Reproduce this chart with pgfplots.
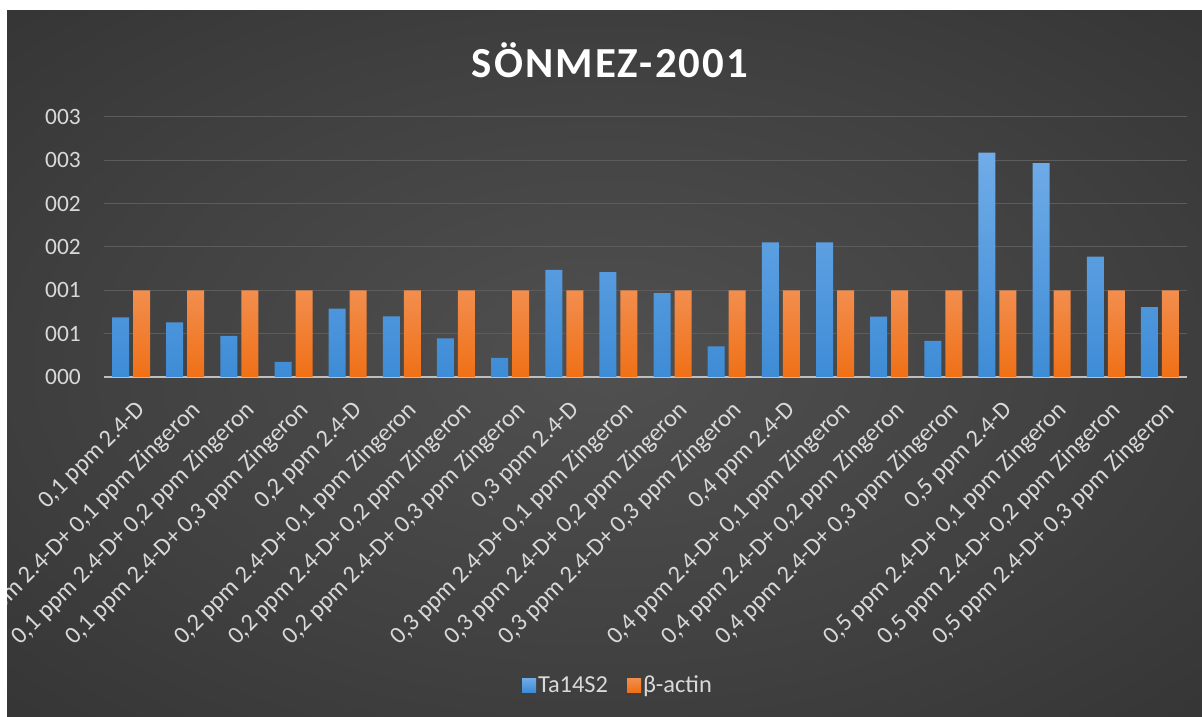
\documentclass[border=0pt]{standalone}
\usepackage{pgfplots}
\pgfplotsset{compat=1.18}
\usepackage{fontspec}
\setmainfont{Carlito}
\newfontfamily\titlefont[LetterSpace=5]{Carlito}
\definecolor{blueT}{RGB}{112,172,232}
\definecolor{blueB}{RGB}{62,140,214}
\definecolor{orT}{RGB}{242,142,78}
\definecolor{orB}{RGB}{240,112,22}
\definecolor{lbl}{RGB}{217,217,217}
\definecolor{gridc}{RGB}{92,92,92}
\definecolor{axc}{RGB}{190,190,190}
\definecolor{bgA}{RGB}{80,80,80}
\definecolor{bgB}{RGB}{64,64,64}
\definecolor{bgC}{RGB}{42,42,42}
\definecolor{bgD}{RGB}{34,34,34}
\pgfdeclareradialshading{bgshade}{\pgfpoint{0bp}{0bp}}{color(0bp)=(bgA); color(22bp)=(bgB); color(50bp)=(bgC); color(72bp)=(bgD)}
\begin{document}
\begin{tikzpicture}
\useasboundingbox (0,0) rectangle (1202bp,717bp);
\fill[white] (0,0) rectangle (1202bp,717bp);
\shade[shading=bgshade] (7bp,0) rectangle (1202bp,706bp);
\begin{scope}
\clip (7bp,0) rectangle (1202bp,706bp);
\node[text=white, font=\titlefont\bfseries\fontsize{43}{48}\selectfont] at (610bp,657bp) {SÖNMEZ-2001};
\begin{axis}[
  at={(104bp,340bp)}, anchor=south west,
  scale only axis, width=1083bp, height=260bp,
  xmin=0.5, xmax=20.5, ymin=0, ymax=3,
  ybar, bar width=0.314,
  xtick={1,...,20},
  xticklabels={{0,1 ppm 2.4-D},{0,1 ppm 2.4-D+ 0,1 ppm Zingeron},{0,1 ppm 2.4-D+ 0,2 ppm Zingeron},{0,1 ppm 2.4-D+ 0,3 ppm Zingeron},
    {0,2 ppm 2.4-D},{0,2 ppm 2.4-D+ 0,1 ppm Zingeron},{0,2 ppm 2.4-D+ 0,2 ppm Zingeron},{0,2 ppm 2.4-D+ 0,3 ppm Zingeron},
    {0,3 ppm 2.4-D},{0,3 ppm 2.4-D+ 0,1 ppm Zingeron},{0,3 ppm 2.4-D+ 0,2 ppm Zingeron},{0,3 ppm 2.4-D+ 0,3 ppm Zingeron},
    {0,4 ppm 2.4-D},{0,4 ppm 2.4-D+ 0,1 ppm Zingeron},{0,4 ppm 2.4-D+ 0,2 ppm Zingeron},{0,4 ppm 2.4-D+ 0,3 ppm Zingeron},
    {0,5 ppm 2.4-D},{0,5 ppm 2.4-D+ 0,1 ppm Zingeron},{0,5 ppm 2.4-D+ 0,2 ppm Zingeron},{0,5 ppm 2.4-D+ 0,3 ppm Zingeron}},
  ytick={0,0.5,1,1.5,2,2.5,3},
  yticklabels={000,001,001,002,002,003,003},
  major tick length=0pt,
  xticklabel style={rotate=45, anchor=north east, text=lbl, font=\fontsize{24.5}{28}\selectfont, inner sep=0pt, xshift=-12.5bp, yshift=-18.5bp},
  yticklabel style={text=lbl, font=\fontsize{23.5}{27}\selectfont, inner sep=0pt, xshift=-23bp},
  ymajorgrids, grid style={gridc, line width=1bp},
  separate axis lines,
  axis x line*=bottom, axis y line*=left,
  x axis line style={axc, line width=2bp, -},
  y axis line style={draw=none},
  legend style={at={(0.4746,-1.185)}, anchor=center, draw=none, fill=none, text=lbl,
    font=\fontsize{24.5}{28}\selectfont, legend columns=2,
    /tikz/every even column/.append style={column sep=17bp},
    inner sep=0pt},
  legend image code/.code={\path[#1,draw=none] (-2bp,-7bp) rectangle (12bp,7bp);},
  legend cell align=left,
]
\addplot[draw=none, top color=blueT, bottom color=blueB, bar shift=-0.194] coordinates {
(1,0.689) (2,0.630) (3,0.475) (4,0.175) (5,0.790) (6,0.700) (7,0.447) (8,0.222) (9,1.237) (10,1.210)
(11,0.969) (12,0.354) (13,1.553) (14,1.553) (15,0.696) (16,0.416) (17,2.588) (18,2.467) (19,1.389) (20,0.805)};
\addlegendentry{Ta14S2}
\addplot[draw=none, top color=orT, bottom color=orB, bar shift=0.194] coordinates {
(1,1) (2,1) (3,1) (4,1) (5,1) (6,1) (7,1) (8,1) (9,1) (10,1)
(11,1) (12,1) (13,1) (14,1) (15,1) (16,1) (17,1) (18,1) (19,1) (20,1)};
\addlegendentry{β-actin}
\end{axis}
\end{scope}
\end{tikzpicture}
\end{document}
